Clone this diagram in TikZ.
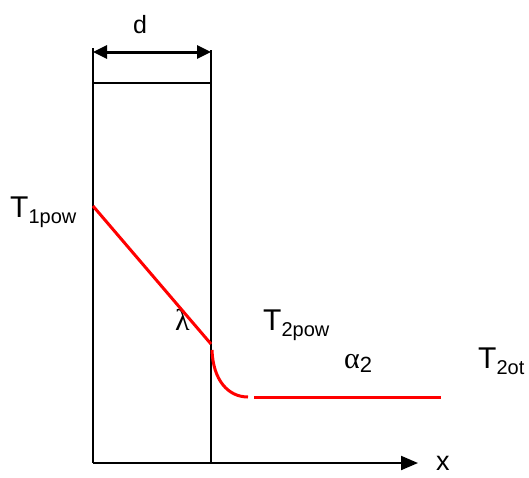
\documentclass[tikz,border=0pt]{standalone}
\usepackage{fontspec}
\setmainfont{Liberation Sans}
\newfontfamily\greekfont{Liberation Serif}
\usetikzlibrary{arrows.meta}
\begin{document}
\begin{tikzpicture}[x=1pt,y=-1pt,
  wall/.style={line width=1.3pt,black},
  redline/.style={line width=3pt,red},
  lbl/.style={inner sep=0pt,anchor=base west,font=\fontsize{30}{32}\selectfont}]
\newcommand{\subtxt}[1]{\raisebox{-6pt}{\fontsize{20}{22}\selectfont #1}}
\useasboundingbox (0,0) rectangle (529,477);
\coordinate (lt) at (93,48);
\coordinate (lb) at (93,463);
\coordinate (rt) at (211,50);
\coordinate (rb) at (211,463);
\coordinate (tl) at (93,83);
\coordinate (tr) at (211,83);
\coordinate (xe) at (418,463);
\coordinate (al) at (93,52);
\coordinate (ar) at (211,52);
\coordinate (p1) at (93,206);
\coordinate (p2) at (211,344);
\coordinate (c1) at (212,350);
\coordinate (c2) at (248,397);
\coordinate (h1) at (254,397);
\coordinate (h2) at (441,397);
\draw[wall] (lt) -- (lb);
\draw[wall] (rt) -- (rb);
\draw[wall] (tl) -- (tr);
\draw[line width=2pt,-{Triangle[length=17pt,width=14pt]}] (lb) -- (xe);
\draw[line width=3pt,{Triangle[length=14pt,width=13pt]}-{Triangle[length=14pt,width=13pt]}] (al) -- (ar);
\node[lbl,font=\fontsize{30}{32}\greekfont] (lam) at (175,330) {λ};
\draw[redline] (p1) -- (p2);
\draw[redline] (c1) .. controls (213,380) and (228,397) .. (c2);
\draw[redline] (h1) -- (h2);
\node[lbl,font=\fontsize{25}{28}\selectfont] (d) at (133,33) {d};
\node[lbl,font=\fontsize{27}{29}\selectfont] (x) at (436,470) {x};
\node[lbl] (t1) at (10,217) {T\subtxt{1pow}};
\node[lbl] (t2) at (263,330) {T\subtxt{2pow}};
\node[lbl] (t3) at (478,368) {T\subtxt{2ot}};
\node[lbl] (al2) at (344,368) {{\greekfont α}\raisebox{-4pt}{\fontsize{22}{24}\selectfont 2}};
\end{tikzpicture}
\end{document}
